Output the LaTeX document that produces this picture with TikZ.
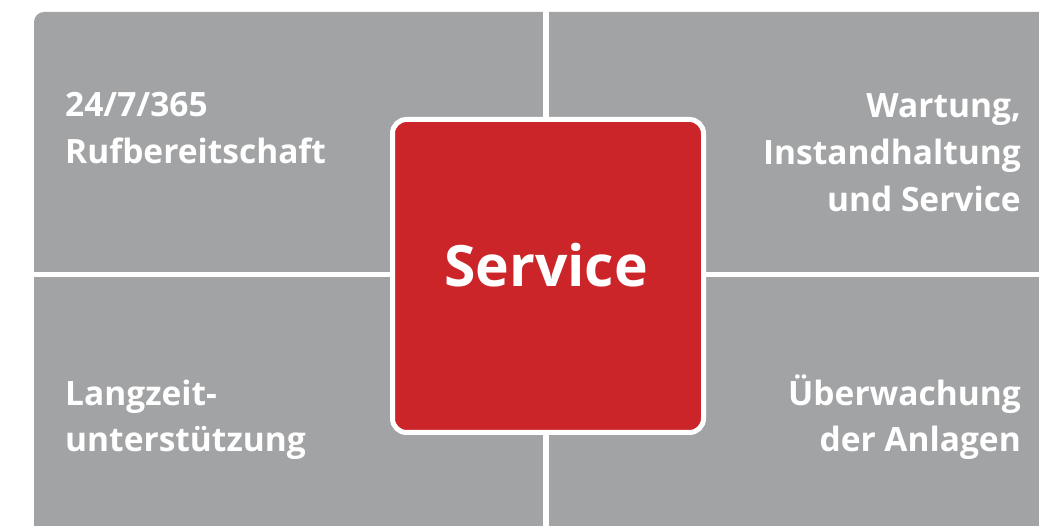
\documentclass[tikz,border=0pt]{standalone}
\usepackage{fontspec}
\setmainfont{Open Sans}
\usepackage{tikz}
\usetikzlibrary{positioning}

\definecolor{tilegrey}{HTML}{A2A3A5}
\definecolor{servicered}{HTML}{CC2529}

\tikzset{
  tiletext/.style={white, inner sep=0pt, font=\bfseries\fontsize{33.5}{47}\selectfont},
  centerbox/.style={fill=servicered, draw=white, line width=5pt,
                    rounded corners=14pt, minimum width=311pt, minimum height=313pt}
}

\begin{document}
\begin{tikzpicture}[x=1pt,y=-1pt]
\useasboundingbox (0,0) rectangle (1039,526);
\clip (0,0) rectangle (1039,526);

% grey tiles, cut by white gaps
\fill[tilegrey, rounded corners=10pt] (34,12) rectangle (1080,570);
\fill[white] (543,0) rectangle (549,526);
\fill[white] (0,272) rectangle (1039,277);

\node[centerbox] (service) at (548,276) {};
\node[white, inner sep=0pt, font=\bfseries\fontsize{57}{60}\selectfont, anchor=base] (servicetext)
  at (546,287) {Service};

\node[tiletext, anchor=base west, align=left] (ruf) at (65,164)
  {24/7/365\\Rufbereitschaft};
\node[tiletext, anchor=base east, align=right] (wartung) at (1021,212)
  {Wartung,\\Instandhaltung\\und Service};
\node[tiletext, anchor=base west, align=left] (langzeit) at (65,452)
  {Langzeit-\\unterstützung};
\node[tiletext, anchor=base east, align=right] (monitor) at (1021,452)
  {Überwachung\\der Anlagen};
\end{tikzpicture}
\end{document}
